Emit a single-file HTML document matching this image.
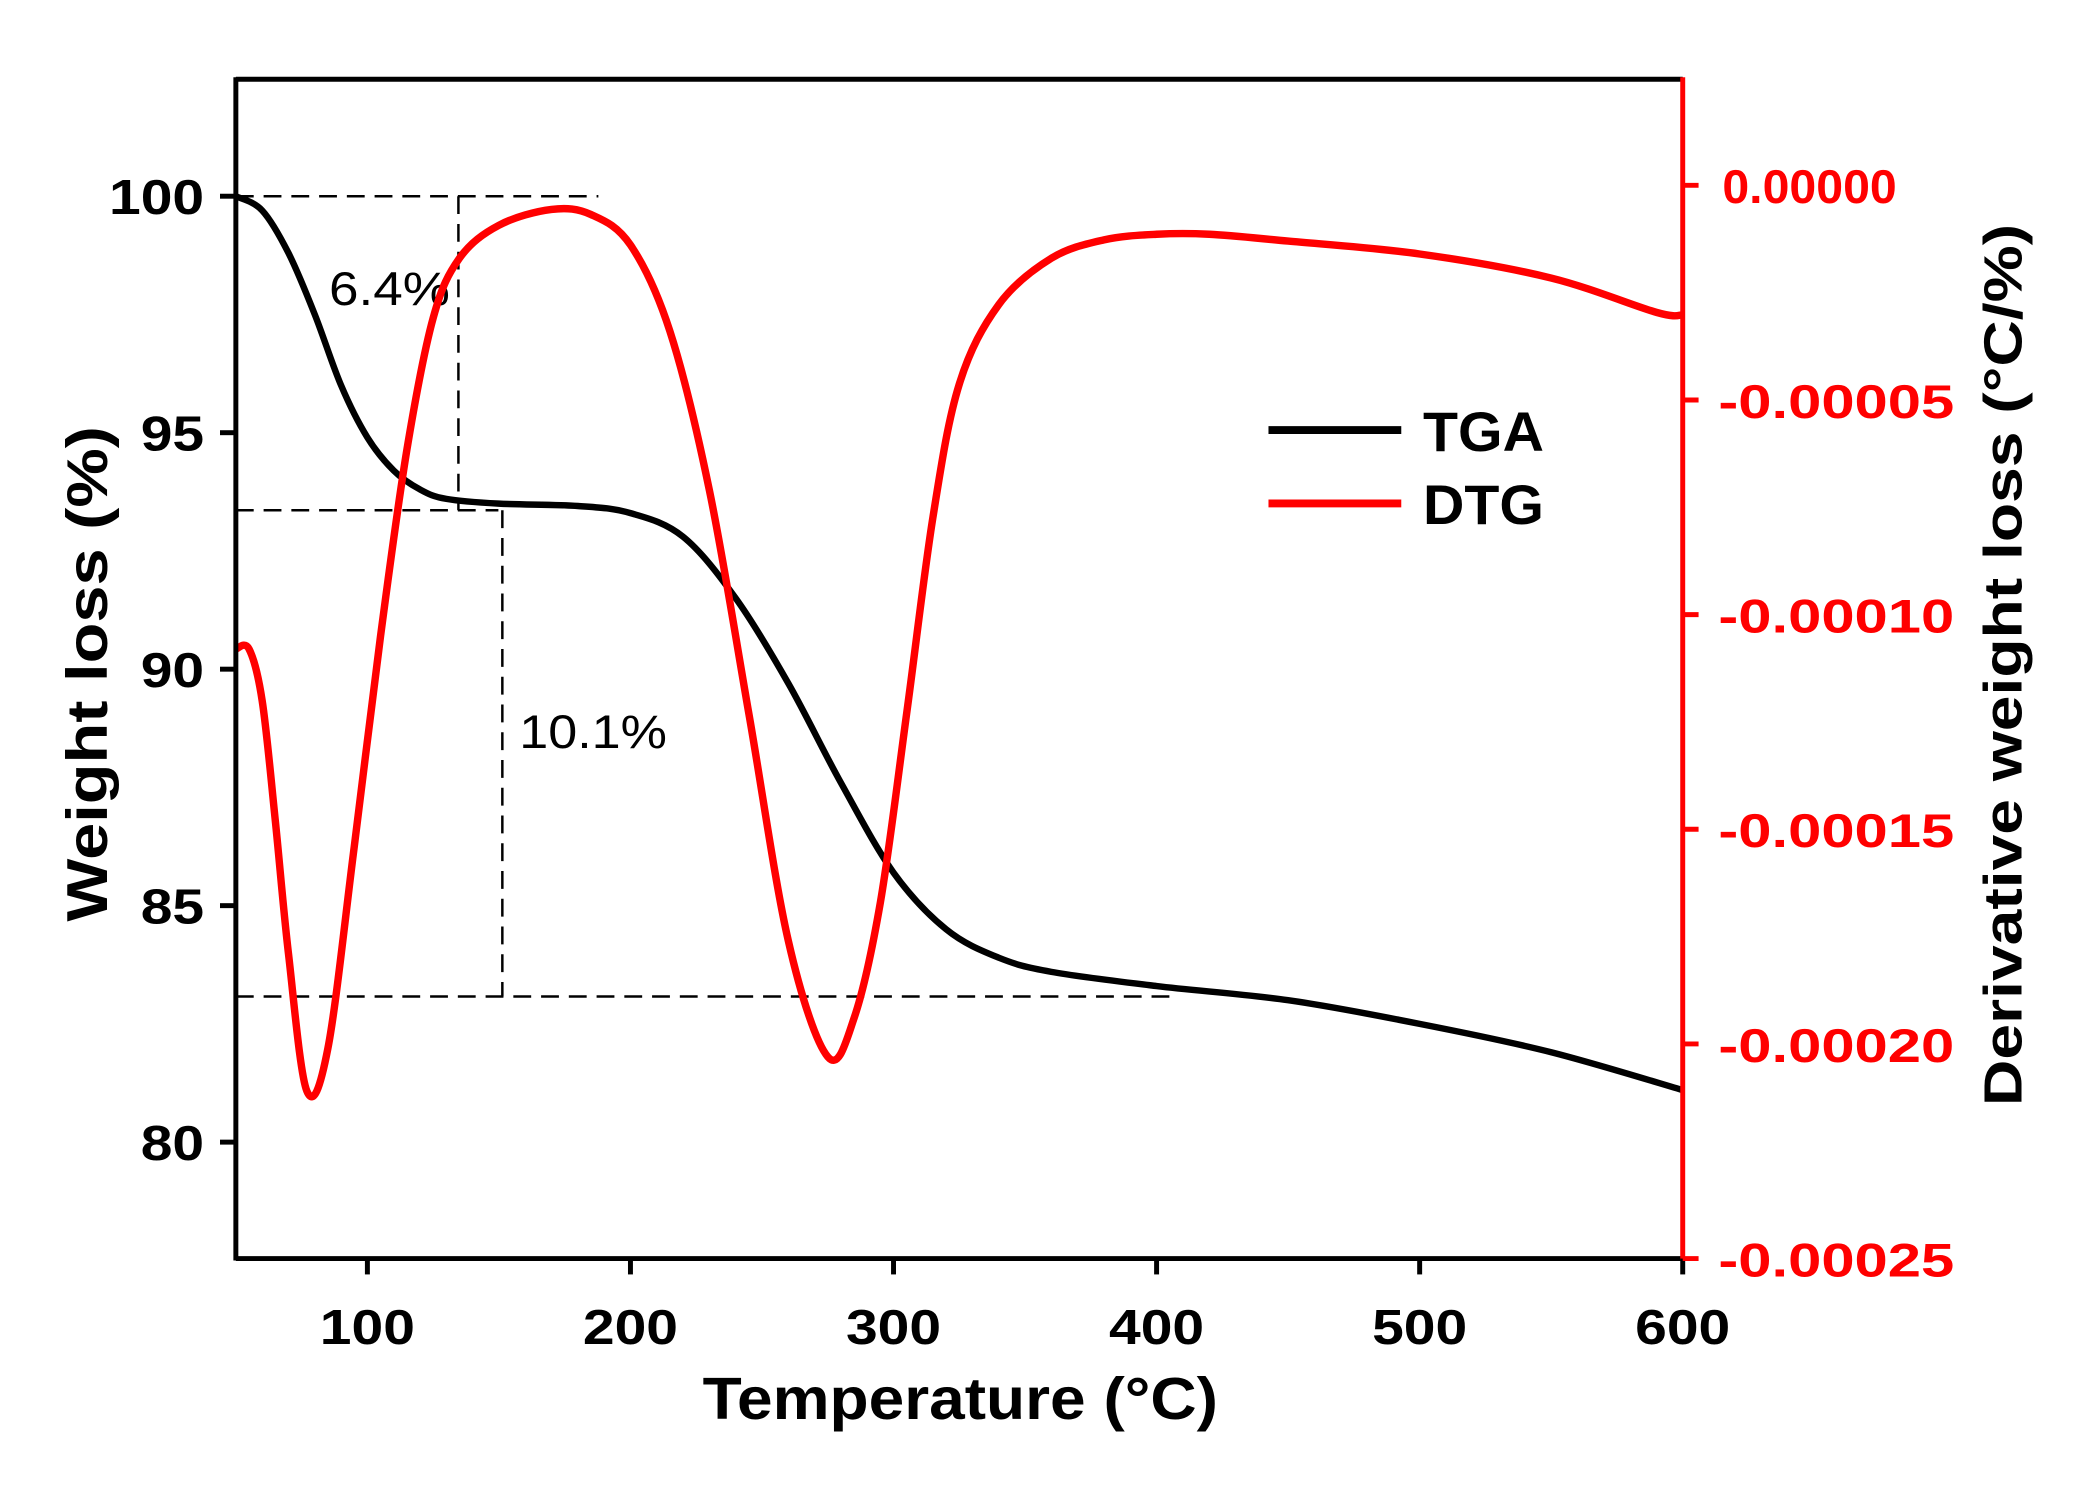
<!DOCTYPE html>
<html><head><meta charset="utf-8">
<style>
html,body{margin:0;padding:0;background:#fff;}
svg{display:block;font-family:"Liberation Sans",Arial,sans-serif;}
</style></head>
<body>
<svg width="2078" height="1486" viewBox="0 0 2078 1486" xmlns="http://www.w3.org/2000/svg">
<g id="chart" transform="scale(0.991)">
<g font-family="Liberation Sans, Arial, sans-serif">
<text x="969" y="1432" text-anchor="middle" font-size="60" font-weight="bold" textLength="520" lengthAdjust="spacingAndGlyphs">Temperature (°C)</text>
<text transform="translate(108,680) rotate(-90)" text-anchor="middle" font-size="58" font-weight="bold" textLength="500" lengthAdjust="spacingAndGlyphs">Weight loss (%)</text>
<text transform="translate(2040,671) rotate(-90)" text-anchor="middle" font-size="54" font-weight="bold" textLength="890" lengthAdjust="spacingAndGlyphs">Derivative weight loss (°C/%)</text>
<text x="332" y="308" font-size="48" textLength="122" lengthAdjust="spacingAndGlyphs">6.4%</text>
<text x="524" y="755" font-size="48" textLength="149" lengthAdjust="spacingAndGlyphs">10.1%</text>
<line x1="1280" y1="434" x2="1414" y2="434" stroke="#000" stroke-width="8"/>
<text x="1436" y="455" font-size="56" font-weight="bold" textLength="122" lengthAdjust="spacingAndGlyphs">TGA</text>
<line x1="1280" y1="508" x2="1414" y2="508" stroke="#ff0000" stroke-width="8"/>
<text x="1436" y="529" font-size="56" font-weight="bold" textLength="122" lengthAdjust="spacingAndGlyphs">DTG</text>
</g>
</g>
</svg>
<script>
const tgaTemps = [50,60,70,80,90,100,110,120,130,150,180,200,220,240,260,280,300,320,340,360,400,450,500,550,600];
const tgaValues = [100,99.7,98.8,97.5,96.0,94.9,94.2,93.8,93.6,93.5,93.45,93.3,92.8,91.5,89.7,87.6,85.7,84.5,83.9,83.6,83.3,83.0,82.5,81.9,81.1];
const dtgTemps = [50,55,60,65,70,77,85,95,105,115,125,135,150,170,185,200,215,230,245,260,275,285,295,305,315,325,340,360,380,400,420,450,500,550,590,600];
const dtgValues = [-0.000108,-0.000108,-0.000120,-0.000148,-0.000179,-0.000211,-0.000201,-0.000154,-0.000105,-0.0000617,-0.0000309,-0.0000170,-0.0000093,-0.0000056,-0.0000068,-0.0000139,-0.0000340,-0.0000710,-0.000123,-0.000176,-0.000203,-0.000194,-0.000167,-0.000123,-0.0000772,-0.0000463,-0.0000278,-0.0000170,-0.0000127,-0.0000114,-0.0000114,-0.0000130,-0.0000160,-0.0000216,-0.0000296,-0.0000302];
const xTicks = [100,200,300,400,500,600];
const yLeftTicks = [80,85,90,95,100];
const yRightTicks = [0,-0.00005,-0.00010,-0.00015,-0.00020,-0.00025];
const yRightLabels = ["0.00000","-0.00005","-0.00010","-0.00015","-0.00020","-0.00025"];

const L=238,R=1698,T=80,B=1270;
const X = t => L + (t-50)*(R-L)/550;
const YL = v => 198 + (100-v)*(1152.5-198)/20;
const YR = v => 187 + (-v)*(1270-187)/0.00025;
const NS="http://www.w3.org/2000/svg";
const svg=document.getElementById('chart');
function mk(tag,attrs,parent){const e=document.createElementNS(NS,tag);for(const k in attrs)e.setAttribute(k,attrs[k]);(parent||svg).appendChild(e);return e;}
function smooth(pts){let d='M'+pts[0][0].toFixed(1)+','+pts[0][1].toFixed(1);
for(let i=0;i<pts.length-1;i++){const p0=pts[Math.max(0,i-1)],p1=pts[i],p2=pts[i+1],p3=pts[Math.min(pts.length-1,i+2)];
const c1x=p1[0]+(p2[0]-p0[0])/6,c1y=p1[1]+(p2[1]-p0[1])/6,c2x=p2[0]-(p3[0]-p1[0])/6,c2y=p2[1]-(p3[1]-p1[1])/6;
d+='C'+c1x.toFixed(1)+','+c1y.toFixed(1)+' '+c2x.toFixed(1)+','+c2y.toFixed(1)+' '+p2[0].toFixed(1)+','+p2[1].toFixed(1);}
return d;}

const guides=[[50,100,187.8,100],[134.6,100,134.6,93.36],[50,93.36,149.8,93.36],[151.3,93.36,151.3,83.08],[50,83.08,405.6,83.08]];
guides.forEach((g,i)=>{const e=mk('line',{x1:X(g[0]),y1:YL(g[1]),x2:X(g[2]),y2:YL(g[3]),stroke:'#000','stroke-width':2.5,'stroke-dasharray':'18,10'});

});

const tga=mk('path',{d:smooth(tgaTemps.map((t,i)=>[X(t),YL(tgaValues[i])])),fill:'none',stroke:'#000','stroke-width':6.5,'stroke-linejoin':'round'});


const dtg=mk('path',{d:smooth(dtgTemps.map((t,i)=>[X(t),YR(dtgValues[i])])),fill:'none',stroke:'#ff0000','stroke-width':7.5,'stroke-linejoin':'round'});



mk('line',{x1:L,y1:T,x2:R,y2:T,stroke:'#000','stroke-width':5});
mk('line',{x1:L,y1:T-2,x2:L,y2:B+2,stroke:'#000','stroke-width':5});
mk('line',{x1:L,y1:B,x2:R,y2:B,stroke:'#000','stroke-width':5});
const ra=mk('line',{x1:R,y1:T-2,x2:R,y2:B+2,stroke:'#ff0000','stroke-width':5});



xTicks.forEach(t=>{mk('line',{x1:X(t),y1:B,x2:X(t),y2:B+16,stroke:'#000','stroke-width':5});
const tx=mk('text',{x:X(t),y:B+86,'text-anchor':'middle','font-size':50,'font-weight':'bold',fill:'#000',textLength:96,lengthAdjust:'spacingAndGlyphs'});tx.textContent=t;

});
yLeftTicks.forEach(v=>{mk('line',{x1:L-16,y1:YL(v),x2:L,y2:YL(v),stroke:'#000','stroke-width':5});
const tx=mk('text',{x:L-32,y:YL(v)+18,'text-anchor':'end','font-size':50,'font-weight':'bold',fill:'#000',textLength:(String(v).length*32),lengthAdjust:'spacingAndGlyphs'});tx.textContent=v;

});
yRightTicks.forEach((v,i)=>{mk('line',{x1:R,y1:YR(v),x2:R+16,y2:YR(v),stroke:'#ff0000','stroke-width':5});
const lab=yRightLabels[i];
const tx=mk('text',{x:R+(lab[0]==='-'?36:40),y:YR(v)+18,'text-anchor':'start','font-size':48,'font-weight':'bold',fill:'#ff0000',textLength:(lab[0]==='-'?238:176),lengthAdjust:'spacingAndGlyphs'});tx.textContent=lab;

});
</script>
</body></html>
